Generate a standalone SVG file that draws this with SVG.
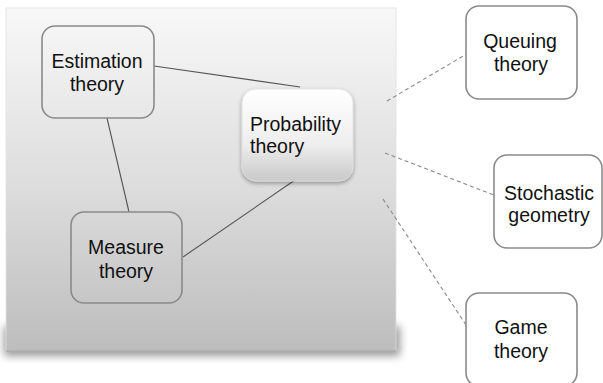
<svg xmlns="http://www.w3.org/2000/svg" width="603" height="383" viewBox="0 0 603 383">
<defs>
<linearGradient id="panelGrad" x1="0" y1="0" x2="0" y2="1">
<stop offset="0" stop-color="#f8f8f8"/>
<stop offset="0.5" stop-color="#dedede"/>
<stop offset="1" stop-color="#bdbdbd"/>
</linearGradient>
<linearGradient id="probGrad" x1="0" y1="0" x2="0" y2="1">
<stop offset="0" stop-color="#ffffff"/>
<stop offset="0.6" stop-color="#eeeeee"/>
<stop offset="1" stop-color="#c9c9c9"/>
</linearGradient>
<filter id="panelShadow" x="-10%" y="-50%" width="120%" height="200%">
<feGaussianBlur stdDeviation="4"/>
</filter>
<filter id="nodeShadow" x="-20%" y="-20%" width="140%" height="150%">
<feDropShadow dx="0" dy="2" stdDeviation="2" flood-color="#000" flood-opacity="0.35"/>
</filter>
<style>
.lbl{font-family:"Liberation Sans",Arial,sans-serif;font-size:19.5px;fill:#111;}
.mid{text-anchor:middle;}
.box{fill:none;stroke:#8a8a8a;stroke-width:1.6;}
.wbox{fill:#ffffff;stroke:#8a8a8a;stroke-width:1.6;}
.solid{stroke:#555;stroke-width:1.1;fill:none;}
.dash{stroke:#8a8a8a;stroke-width:1.1;fill:none;stroke-dasharray:4 3;}
</style>
</defs>
<rect width="603" height="383" fill="#ffffff"/>
<g id="panel">
<rect x="4" y="326" width="396" height="30" fill="#000" opacity="0.4" filter="url(#panelShadow)"/>
<rect x="6" y="8" width="390" height="343" fill="url(#panelGrad)" stroke="#e2e2e2" stroke-width="0.8"/>
<line x1="6" y1="351" x2="396" y2="351" stroke="#9a9a9a" stroke-width="1.2"/>
</g>
<g id="connectors">
<line class="solid" x1="154" y1="66" x2="300" y2="87"/>
<line class="solid" x1="107" y1="118" x2="129" y2="212"/>
<line class="solid" x1="183" y1="257" x2="295" y2="180"/>
<line class="dash" x1="387" y1="101" x2="470" y2="52"/>
<line class="dash" x1="385" y1="153" x2="494" y2="195"/>
<line class="dash" x1="383" y1="199" x2="466" y2="325"/>
</g>
<g id="estimation">
<rect class="box" x="42" y="26" width="112" height="92" rx="13"/>
<text class="lbl mid" x="97" y="68">Estimation</text>
<text class="lbl mid" x="97" y="91">theory</text>
</g>
<g id="probability">
<rect x="242" y="89" width="111" height="92" rx="14" fill="url(#probGrad)" stroke="#e0e0e0" stroke-width="0.8" filter="url(#nodeShadow)"/>
<text class="lbl" x="250" y="131">Probability</text>
<text class="lbl" x="250" y="153">theory</text>
</g>
<g id="measure">
<rect class="box" x="71" y="212" width="111" height="91" rx="13"/>
<text class="lbl mid" x="126" y="254">Measure</text>
<text class="lbl mid" x="126" y="278">theory</text>
</g>
<g id="queuing">
<rect class="wbox" x="466" y="6" width="111" height="93" rx="13"/>
<text class="lbl mid" x="520" y="48">Queuing</text>
<text class="lbl mid" x="521" y="71">theory</text>
</g>
<g id="stochastic">
<rect class="wbox" x="494" y="155" width="108" height="93" rx="13"/>
<text class="lbl mid" x="549" y="200">Stochastic</text>
<text class="lbl mid" x="549" y="222">geometry</text>
</g>
<g id="game">
<rect class="wbox" x="466" y="293" width="111" height="93" rx="13"/>
<text class="lbl mid" x="521" y="334">Game</text>
<text class="lbl mid" x="521" y="358">theory</text>
</g>
</svg>
